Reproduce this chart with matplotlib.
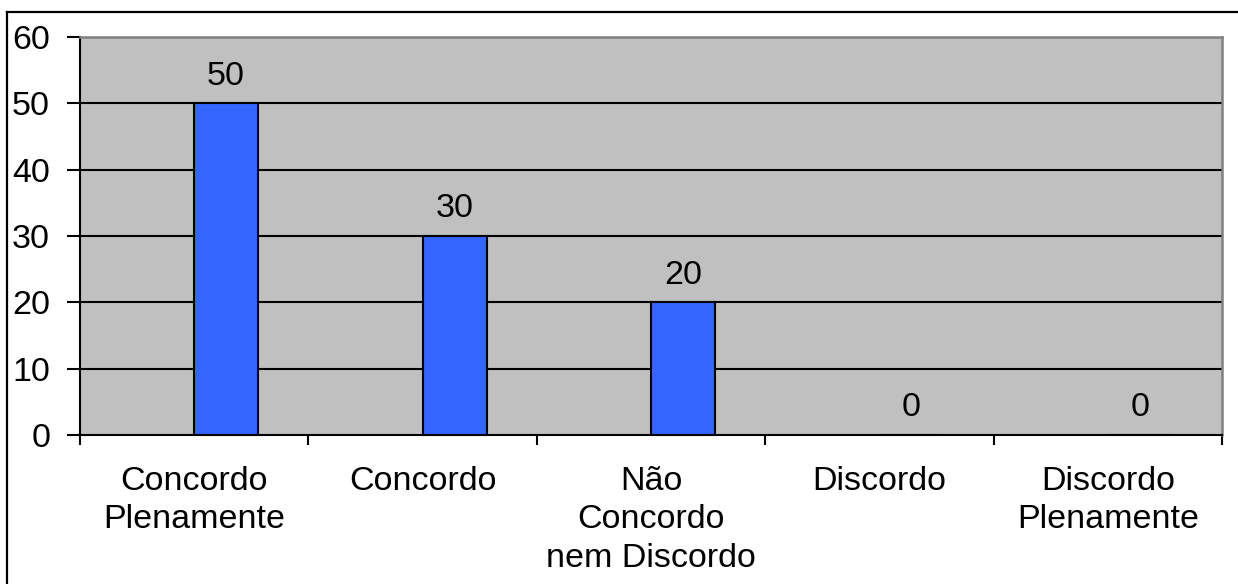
import matplotlib
matplotlib.use("Agg")
import matplotlib.pyplot as plt
from matplotlib.lines import Line2D
import numpy as np

categories = ["Concordo\nPlenamente", "Concordo", "Não\nConcordo\nnem Discordo",
              "Discordo", "Discordo\nPlenamente"]
values = [50, 30, 20, 0, 0]
y_ticks = [0, 10, 20, 30, 40, 50, 60]

plt.rcParams["font.family"] = ["Liberation Sans", "DejaVu Sans"]
FS = 24.5

W, H = 1238, 584
fig = plt.figure(figsize=(W / 100, H / 100), dpi=100)
fig.patch.set_facecolor("white")

left, right, top, bottom = 80, 1222, 37, 435
ax = fig.add_axes([left / W, 1 - bottom / H, (right - left) / W, (bottom - top) / H])
ax.set_facecolor("#C0C0C0")

x = np.arange(len(categories))
bar_w = 0.28

# horizontal grid lines behind the bars
for yv in y_ticks[1:-1]:
    ax.axhline(yv, color="black", lw=1.5, zorder=1)

bars = ax.bar(x, values, width=bar_w, align="edge", color="#3366FF",
              edgecolor="black", linewidth=1.5, zorder=3)

for xi, v in zip(x, values):
    ax.annotate(f"{v}", xy=(xi + bar_w / 2, v), xytext=(0, 13.5),
                textcoords="offset points", ha="center", va="baseline",
                fontsize=FS, color="black", zorder=4)

ax.set_xlim(-0.5, len(categories) - 0.5)
ax.set_ylim(y_ticks[0], y_ticks[-1])
ax.set_yticks(y_ticks)
ax.tick_params(axis="y", direction="out", length=9.5, width=1.5,
               pad=12, labelsize=FS, colors="black")

# category boundaries as ticks, labels centred between them
ax.set_xticks(np.arange(-0.5, len(categories)))
ax.set_xticklabels([])
ax.set_xticks(x, minor=True)
ax.set_xticklabels(categories, minor=True, fontsize=FS, linespacing=1.32,
                   ha="center", va="top")
ax.tick_params(axis="x", which="major", direction="out", length=7, width=1.5)
ax.tick_params(axis="x", which="minor", length=0, pad=22)

for side in ("left", "bottom"):
    ax.spines[side].set_color("black")
    ax.spines[side].set_linewidth(1.5)
for side in ("top", "right"):
    ax.spines[side].set_color("#808080")
    ax.spines[side].set_linewidth(1.8)

# outer chart border
fig.add_artist(Line2D([7 / W, 7 / W], [0, 1 - 12 / H], transform=fig.transFigure,
                      color="black", lw=1.6))
fig.add_artist(Line2D([7 / W, 1], [1 - 12 / H, 1 - 12 / H], transform=fig.transFigure,
                      color="black", lw=1.6))

fig.savefig("out.png", dpi=100, facecolor="white")
